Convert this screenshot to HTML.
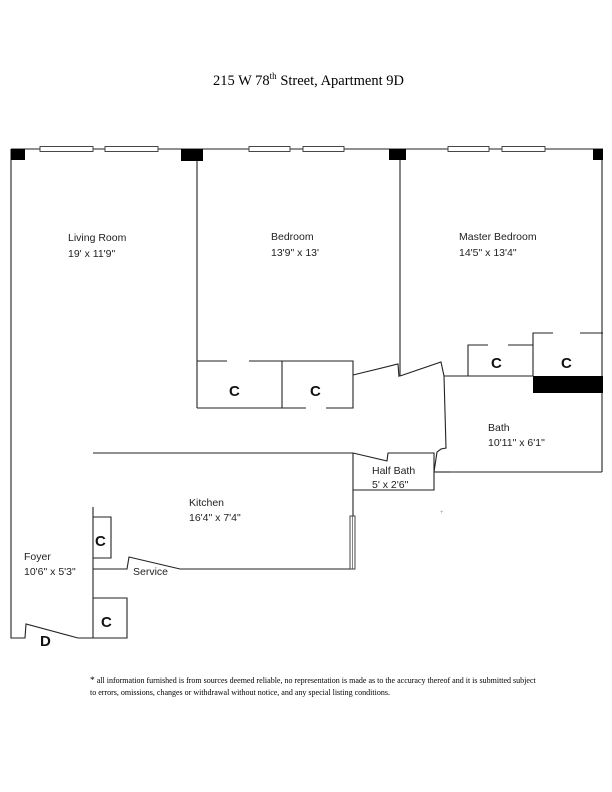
<!DOCTYPE html>
<html><head><meta charset="utf-8"><style>
html,body{margin:0;padding:0;background:#fff;}
svg{display:block}
.l{font-family:"Liberation Sans",sans-serif;font-size:10.5px;fill:#222}
.c{font-family:"Liberation Sans",sans-serif;font-size:15px;font-weight:bold;fill:#111}
.s{font-family:"Liberation Serif",serif;fill:#000}
</style></head><body>
<svg width="612" height="792" viewBox="0 0 612 792" xmlns="http://www.w3.org/2000/svg">
<text class="s" x="213" y="85" font-size="14.5">215 W 78<tspan font-size="9" dy="-6">th</tspan><tspan dy="6"> Street, Apartment 9D</tspan></text>
<g fill="none" stroke="#222" stroke-width="1.1">
<line x1="11" y1="149" x2="603" y2="149"/>
<g fill="#fff" stroke="#333" stroke-width="0.9">
<rect x="40" y="146.5" width="53" height="5"/><rect x="105" y="146.5" width="53" height="5"/>
<rect x="249" y="146.5" width="41" height="5"/><rect x="303" y="146.5" width="41" height="5"/>
<rect x="448" y="146.5" width="41" height="5"/><rect x="502" y="146.5" width="43" height="5"/>
</g>
<polyline points="11,149 11,638 25,638 26,624 78,638 127,638"/>
<line x1="197" y1="160" x2="197" y2="408"/>
<polyline points="197,361 227,361"/><polyline points="249,361 353,361 353,408 326,408"/>
<polyline points="306,408 197,408"/>
<line x1="282" y1="361" x2="282" y2="408"/>
<polyline points="353,375 398,364 399,377"/>
<line x1="400" y1="160" x2="400" y2="376"/>
<polyline points="400,376 441,362 444,376 446,448 441,449 437,452 434,472"/>
<polyline points="444,376 533,376"/>
<polyline points="468,376 468,345 488,345"/><polyline points="508,345 533,345"/>
<polyline points="533,376 533,333 553,333"/><polyline points="580,333 603,333"/>
<line x1="602" y1="160" x2="602" y2="472"/>
<line x1="434" y1="472" x2="602" y2="472"/>
<polyline points="93,453 353,453 387,461 388,453 434,453 434,490 353,490 353,453"/>
<line x1="434" y1="472" x2="450" y2="472"/>
<line x1="353" y1="490" x2="353" y2="569"/>
<polyline points="355,569 180,569 129,557 127,569 93,569"/>
<line x1="93" y1="507" x2="93" y2="638"/>
<polyline points="93,517 111,517 111,558 93,558"/>
<polyline points="93,598 127,598 127,638 93,638"/>
</g>
<rect x="350" y="516" width="5" height="53" fill="#fff" stroke="#333" stroke-width="0.9"/>
<line x1="352.5" y1="516" x2="352.5" y2="569" stroke="#333" stroke-width="0.6"/>
<g fill="#000">
<rect x="11" y="149" width="14" height="11"/>
<rect x="181" y="149" width="22" height="12"/>
<rect x="389" y="149" width="17" height="11"/>
<rect x="593" y="149" width="10" height="11"/>
<rect x="533" y="376" width="70" height="17"/>
</g>
<text class="l" x="68" y="241">Living Room</text><text class="l" x="68" y="257">19' x 11'9"</text>
<text class="l" x="271" y="240">Bedroom</text><text class="l" x="271" y="256">13'9" x 13'</text>
<text class="l" x="459" y="240">Master Bedroom</text><text class="l" x="459" y="256">14'5" x 13'4"</text>
<text class="l" x="488" y="431">Bath</text><text class="l" x="488" y="446">10'11" x 6'1"</text>
<text class="l" x="372" y="474">Half Bath</text><text class="l" x="372" y="488">5' x 2'6"</text>
<text class="l" x="189" y="506">Kitchen</text><text class="l" x="189" y="521">16'4" x 7'4"</text>
<text class="l" x="24" y="560">Foyer</text><text class="l" x="24" y="575">10'6" x 5'3"</text>
<text class="l" x="133" y="575" font-size="6.5">Service</text>
<text class="c" x="229" y="396">C</text><text class="c" x="310" y="396">C</text>
<text class="c" x="491" y="368">C</text><text class="c" x="561" y="368">C</text>
<text class="c" x="95" y="546">C</text><text class="c" x="101" y="627">C</text>
<text class="c" x="40" y="646">D</text>
<text x="440" y="514" font-size="6" fill="#999" font-family="Liberation Sans">+</text>
<text class="s" x="90" y="683" font-size="8"><tspan font-size="9.5">*</tspan> all information furnished is from sources deemed reliable, no representation is made as to the accuracy thereof and it is submitted subject</text>
<text class="s" x="90" y="695" font-size="8">to errors, omissions, changes or withdrawal without notice, and any special listing conditions.</text>
</svg>
</body></html>
